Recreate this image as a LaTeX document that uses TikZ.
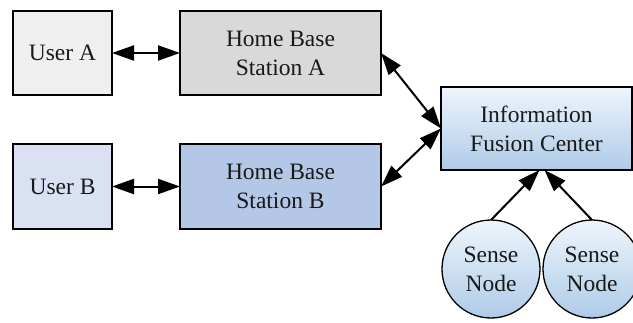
\documentclass[tikz,border=0pt]{standalone}
\usepackage{fontspec}
\setmainfont{Liberation Serif}
\newfontfamily\labelfont{Liberation Serif}
\usetikzlibrary{arrows.meta,calc}
\definecolor{grayA}{HTML}{EFEFEF}
\definecolor{grayB}{HTML}{D9D9D9}
\definecolor{blueA}{HTML}{DAE1F3}
\definecolor{blueB}{HTML}{B4C7E7}
\definecolor{fuseTop}{HTML}{EEF5FC}
\definecolor{fuseBot}{HTML}{AECBE8}
\tikzset{
  txt/.style={align=center, text=black!90, font=\labelfont\fontsize{23.5}{29}\selectfont},
  box/.style={txt, draw=black, line width=1.3pt, rectangle, inner sep=0pt, outer sep=0pt},
  sense/.style={txt, draw=black, line width=1.3pt, circle, inner sep=0pt, outer sep=0pt,
    minimum size=98pt, top color=fuseTop, bottom color=fuseBot},
  head/.tip={Triangle[length=22pt,width=15pt]},
  link/.style={line width=2pt, -head},
  dlink/.style={line width=2pt, head-head}
}
\begin{document}
\begin{tikzpicture}[x=1pt,y=-1pt]
\useasboundingbox (0,0) rectangle (633,322);
\begin{scope}
\clip (0,0) rectangle (633,322);
\node[box, fill=grayA, minimum width=99pt, minimum height=84pt] (ua) at (62.5,53) {User A};
\node[box, fill=grayB, minimum width=201pt, minimum height=84pt] (ha) at (280.5,53) {Home Base\\Station A};
\node[box, fill=blueA, minimum width=99pt, minimum height=85pt] (ub) at (62.5,186.5) {User B};
\node[box, fill=blueB, minimum width=201pt, minimum height=85pt] (hb) at (280.5,186.5) {Home Base\\Station B};
\node[box, top color=fuseTop, bottom color=fuseBot, minimum width=191pt, minimum height=83pt] (ifc) at (536.5,128.5) {Information\\Fusion Center};
\node[sense] (s1) at (491,269) {Sense\\Node};
\node[sense] (s2) at (592,269) {Sense\\Node};

\coordinate (inA) at ($(ifc.south)+(3,0)$);
\coordinate (inB) at ($(ifc.south)+(8,0)$);

\draw[dlink] (ua.east) -- (ha.west);
\draw[dlink] (ub.east) -- (hb.west);
\draw[dlink] (ha.east) -- (ifc.west);
\draw[dlink] (hb.east) -- (ifc.west);
\draw[link] (s1.north) -- (inA);
\draw[link] (s2.north) -- (inB);
\end{scope}
\end{tikzpicture}
\end{document}
